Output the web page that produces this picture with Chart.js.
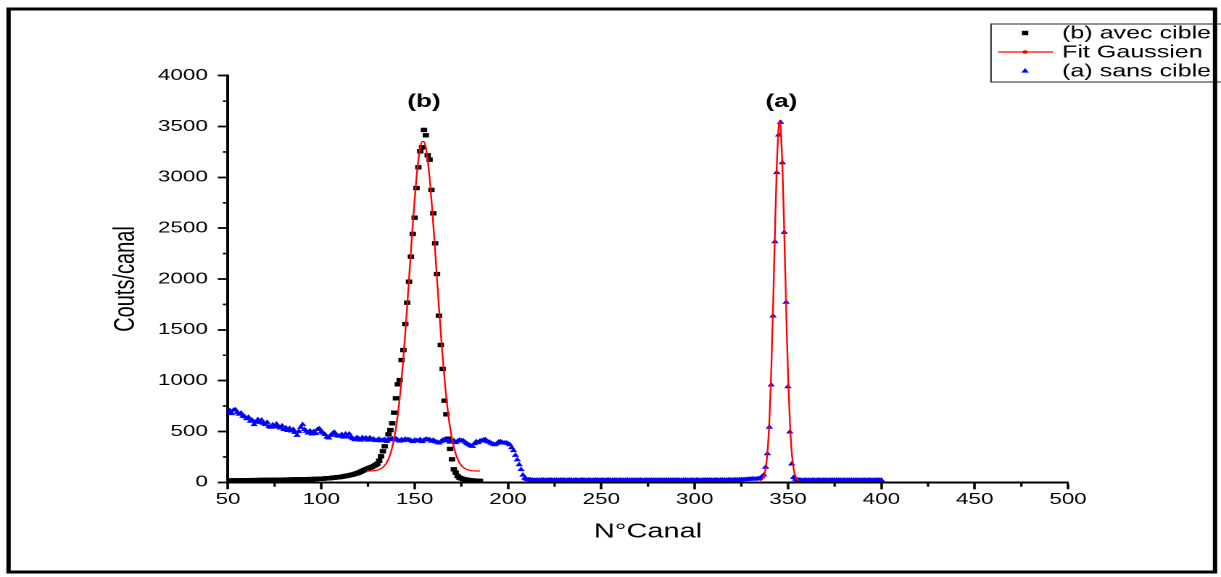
<!DOCTYPE html>
<html><head><meta charset="utf-8">
<script src="https://cdn.jsdelivr.net/npm/chart.js@4.4.1/dist/chart.umd.min.js"></script>
<style>
html,body{margin:0;padding:0;background:#fff;overflow:hidden;}
#wrap{width:1221px;height:577px;overflow:hidden;position:relative;background:#fff;}
#c{position:absolute;left:0;top:0;transform-origin:0 0;transform:scaleX(1.4501);}
</style></head><body><div id="wrap"><canvas id="c" width="842" height="577"></canvas></div>
<script>
// ---------- data ----------
const xTickValues = [50,100,150,200,250,300,350,400,450,500];
const yTickValues = [0,500,1000,1500,2000,2500,3000,3500,4000];
const xMinorTicks = [75,125,175,225,275,325,375,425,475];
const yMinorTicks = [250,750,1250,1750,2250,2750,3250,3750];
const legendLabels = ['(b) avec cible','Fit Gaussien','(a) sans cible'];
const peakLabelText = ['(b)','(a)'];
const peakLabelChannel = [155, 346.5];
const peakLabelCount = [3740, 3740];

// (a) sans cible : channels 50..400
const blueStart = 50;
const blueValues = [
690,705,675,710,714,688,670,680,650,645,
625,640,600,610,567,595,616,590,612,580,
567,590,548,541,565,545,573,550,534,555,
520,535,510,530,505,520,490,462,500,540,
567,520,502,485,505,475,500,480,520,527,
495,485,470,445,436,462,480,492,465,455,
453,470,445,475,450,475,440,430,419,440,
430,415,440,425,436,415,438,420,426,410,
415,425,409,415,420,410,425,418,429,420,
429,415,405,420,410,425,419,419,410,400,
415,409,409,420,400,415,425,419,419,405,
415,400,395,387,400,415,420,409,409,395,
400,410,390,405,415,409,409,395,380,370,
360,354,380,400,390,405,410,419,419,400,
395,385,375,370,380,395,400,390,387,387,
380,370,340,311,265,220,173,125,70,40,
30,26,24,22,21,22,20,21,23,22,
20,22,21,23,20,21,22,20,23,21,
22,20,21,23,22,20,21,22,20,21,
23,21,20,22,21,20,22,21,23,20,
21,22,20,21,23,21,20,22,21,20,
22,21,20,21,22,20,21,20,22,21,
20,21,22,20,21,20,21,22,20,21,
21,20,22,21,20,21,22,21,20,21,
22,21,20,21,21,22,21,20,22,21,
21,22,21,20,22,21,23,21,22,21,
22,23,21,22,24,22,23,22,24,23,
23,24,23,25,24,26,25,27,28,30,
32,34,30,33,36,39,55,72,148,281,
541,957,1636,2367,3046,3417,3541,3144,2459,1771,
940,495,180,49,30,24,22,21,20,21,
20,21,20,22,21,20,21,22,20,21,
22,20,21,20,22,21,20,21,22,20,
21,20,22,21,20,21,22,20,21,20,
22,21,20,21,22,20,21,20,21,22,
21
];

// (b) avec cible : channels 50..185
const blackStart = 50;
const blackValues = [
16,18,17,19,18,20,19,20,19,21,
20,21,20,22,21,22,21,23,22,23,
22,23,24,23,24,25,24,25,26,25,
26,27,26,27,28,27,28,29,28,30,
29,30,31,30,32,31,33,32,34,35,
35,36,38,39,40,42,44,46,48,50,
52,55,58,62,65,69,73,77,82,88,
95,103,112,120,128,136,143,150,160,170,
182,212,256,305,354,409,472,514,580,685,
826,964,1006,1203,1301,1557,1767,1973,2219,2443,
2603,2895,3099,3256,3296,3466,3414,3217,3174,2876,
2646,2351,2049,1639,1351,1115,803,669,429,328,
226,128,95,62,45,38,32,28,25,22,
20,18,16,15,14,13
];

// Fit Gaussien on peak (b): channels 124..185
const fitBStart = 124;
const fitBValues = [
110,111,111,112,114,116,120,126,135,148,
167,193,230,280,345,430,537,669,828,1016,
1232,1472,1729,1999,2273,2538,2783,2998,3170,3290,
3352,3352,3290,3170,2998,2783,2538,2273,1999,1729,
1472,1232,1016,828,669,537,430,345,280,230,
193,167,148,135,126,120,116,114,112,111,
111,110
];

// Fit Gaussien on peak (a)
const fitAChannels = [335,336,337,338,339,340,341,342,343,344,345,345.5,346,347,348,349,350,351,352,353,354,355,356];
const fitAValues   = [15,27,58,135,297,596,1072,1719,2451,3107,3498,3560,3498,3107,2451,1719,1072,596,297,135,58,27,15];

// ---------- chart ----------
const FONT = '"Liberation Sans", Arial, Helvetica, sans-serif';
Chart.defaults.font.family = FONT;
Chart.defaults.color = '#000';

const seq = (start, vals) => vals.map((v, i) => ({x: start + i, y: v}));
const pairs = (xs, ys) => xs.map((c, i) => ({x: c, y: ys[i]}));

const extras = {
  id: 'extras',
  afterDraw(chart) {
    const {ctx, chartArea: a, scales: {x, y}} = chart;
    ctx.save();
    // minor ticks
    ctx.strokeStyle = '#000';
    ctx.lineWidth = 1.6;
    ctx.beginPath();
    for (const v of yMinorTicks) { const py = y.getPixelForValue(v); ctx.moveTo(a.left - 3.5, py); ctx.lineTo(a.left, py); }
    for (const v of xMinorTicks) { const px = x.getPixelForValue(v); ctx.moveTo(px, a.bottom); ctx.lineTo(px, a.bottom + 4.5); }
    ctx.stroke();
    // peak labels
    ctx.fillStyle = '#000';
    ctx.font = 'bold 18px ' + FONT;
    ctx.textAlign = 'center';
    ctx.textBaseline = 'middle';
    peakLabelText.forEach((t, i) => ctx.fillText(t, x.getPixelForValue(peakLabelChannel[i]), y.getPixelForValue(peakLabelCount[i])));
    // legend
    ctx.lineWidth = 1;
    ctx.strokeStyle = '#222';
    ctx.strokeRect(683.4, 24, 200, 58);
    const rows = [33, 52, 71];
    const mx = 706.9;
    ctx.fillStyle = '#000';
    ctx.fillRect(mx - 2.2, rows[0] - 2.2, 4.4, 4.4);
    ctx.strokeStyle = '#ff0000'; ctx.lineWidth = 1.2;
    ctx.beginPath(); ctx.moveTo(688.3, rows[1]); ctx.lineTo(726.2, rows[1]); ctx.stroke();
    ctx.fillStyle = '#ff0000';
    ctx.beginPath(); ctx.arc(mx, rows[1], 1.8, 0, Math.PI * 2); ctx.fill();
    ctx.fillStyle = '#0000ff';
    ctx.beginPath(); ctx.moveTo(mx, rows[2] - 3); ctx.lineTo(mx + 2.6, rows[2] + 1.6); ctx.lineTo(mx - 2.6, rows[2] + 1.6); ctx.closePath(); ctx.fill();
    ctx.fillStyle = '#000';
    ctx.font = '17.3px ' + FONT;
    ctx.textAlign = 'left';
    legendLabels.forEach((t, i) => ctx.fillText(t, 732.4, rows[i] + 0.5));
    // outer frame
    ctx.strokeStyle = '#000';
    ctx.lineWidth = 3;
    ctx.strokeRect(5.9, 9, 832, 563);
    ctx.restore();
  }
};

new Chart(document.getElementById('c'), {
  type: 'scatter',
  data: {
    datasets: [
      { label: 'Fit Gaussien', data: seq(fitBStart, fitBValues), showLine: true, borderColor: '#ff0000', borderWidth: 1.2, pointRadius: 0, cubicInterpolationMode: 'monotone', fill: false },
      { label: 'Fit Gaussien (a)', data: pairs(fitAChannels, fitAValues), showLine: true, borderColor: '#ff0000', borderWidth: 1.2, pointRadius: 0, cubicInterpolationMode: 'monotone', fill: false },
      { label: '(a) sans cible', data: seq(blueStart, blueValues), showLine: false, pointStyle: 'triangle', pointRadius: 3, backgroundColor: '#0000ff', borderWidth: 0 },
      { label: '(b) avec cible', data: seq(blackStart, blackValues), showLine: false, pointStyle: 'rect', pointRadius: 3.1, backgroundColor: '#000000', borderWidth: 0 }
    ]
  },
  options: {
    responsive: false,
    animation: false,
    devicePixelRatio: 2,
    events: [],
    layout: { padding: { left: 0, top: 75.7, right: 105.5, bottom: 0 } },
    plugins: { legend: { display: false }, tooltip: { enabled: false } },
    scales: {
      x: {
        type: 'linear', position: 'bottom', min: 50, max: 500,
        afterBuildTicks: s => { s.ticks = xTickValues.map(v => ({value: v})); },
        ticks: { color: '#000', font: { size: 15.5 }, padding: 1, maxRotation: 0, autoSkip: false, callback: v => String(v) },
        grid: { display: true, drawOnChartArea: false, drawTicks: true, tickLength: 7, tickWidth: 1.8, tickColor: '#000' },
        border: { display: true, color: '#000', width: 2 },
        title: { display: true, text: 'N°Canal', color: '#000', font: { size: 20 }, padding: { top: 0, bottom: 33 } },
        afterFit: s => { s.height = 94.7; }
      },
      y: {
        type: 'linear', position: 'left', min: 0, max: 4000,
        afterBuildTicks: s => { s.ticks = yTickValues.map(v => ({value: v})); },
        ticks: { color: '#000', font: { size: 15.5 }, padding: 6.8, autoSkip: false, callback: v => String(v) },
        grid: { display: true, drawOnChartArea: false, drawTicks: true, tickLength: 7, tickWidth: 1.8, tickColor: '#000' },
        border: { display: true, color: '#000', width: 2 },
        title: { display: true, text: 'Couts/canal', color: '#000', font: { size: 20 }, padding: { top: 74.9, bottom: 0 } },
        afterFit: s => { s.width = 157.2; }
      }
    }
  },
  plugins: [extras]
});
</script></body></html>
